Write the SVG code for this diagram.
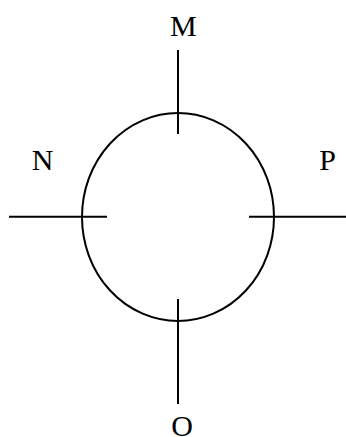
<svg xmlns="http://www.w3.org/2000/svg" width="346" height="437" viewBox="0 0 346 437">
<style>
.ln{stroke:#000;stroke-width:2;fill:none}
.lb{font-family:"Liberation Serif",serif;font-size:30px;fill:#000;text-anchor:middle}
</style>
<rect width="346" height="437" fill="#fff"/>
<g id="circle"><ellipse class="ln" cx="178" cy="217" rx="96" ry="104"/></g>
<g id="connectors">
<line class="ln" x1="178" y1="50" x2="178" y2="134"/>
<line class="ln" x1="178" y1="299" x2="178" y2="404"/>
<line class="ln" x1="9" y1="216.7" x2="107" y2="216.7"/>
<line class="ln" x1="249" y1="216.7" x2="346" y2="216.7"/>
</g>
<g id="M"><text class="lb" x="183.3" y="36">M</text></g>
<g id="N"><text class="lb" x="42.5" y="169.5">N</text></g>
<g id="P"><text class="lb" x="327.5" y="169.5">P</text></g>
<g id="O"><text class="lb" x="182" y="436">O</text></g>
</svg>
